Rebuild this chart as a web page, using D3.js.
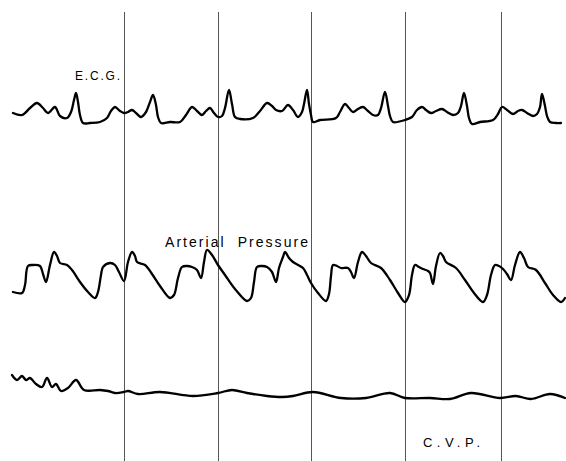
<!DOCTYPE html>
<html>
<head>
<meta charset="utf-8">
<script src="https://cdn.jsdelivr.net/npm/d3@7"></script>
<style>
  html, body { margin: 0; padding: 0; background: #fff; }
  svg { display: block; }
  .trace { fill: none; stroke: #000; stroke-width: 2.3; stroke-linejoin: round; stroke-linecap: round; }
  .marker { stroke: #555; stroke-width: 1; }
  .label { font-family: "Liberation Sans", "DejaVu Sans", sans-serif; fill: #000; }
</style>
</head>
<body>
<div id="chart"></div>
<script>
//******************************************************************************
//**  Data (time in chart units, value = deflection above trace base)
//******************************************************************************
var markerTimes = [124, 218, 311, 405, 501];

var ecg = [[13,7],[22,5],[30,12],[37,17],[43,12],[48,7],[55,13],[60,4],[67,2],[71,8],[74,20],[76,27],[78,18],[80,5],[83,-3],[90,-3],[100,-2],[107,2],[111,9],[115,13],[120,9],[124,7],[128,8],[132,10],[136,7],[141,3],[146,8],[150,18],[153,25],[156,15],[158,3],[161,-3],[170,-2],[180,-2],[186,5],[192,13],[197,9],[202,5],[206,9],[210,12],[214,7],[218,3],[222,4],[225,12],[229,30],[232,16],[235,3],[240,1],[253,2],[260,9],[267,17],[272,14],[276,10],[282,9],[288,15],[293,10],[298,3],[302,8],[304,16],[307,30],[309,16],[311,5],[313,-2],[320,0],[336,2],[340,8],[345,16],[349,12],[353,8],[358,11],[363,13],[368,9],[373,5],[378,5],[381,12],[385,28],[388,14],[390,4],[393,-2],[405,0],[412,3],[417,10],[422,13],[426,10],[431,7],[436,9],[442,11],[447,8],[453,5],[458,7],[461,14],[464,27],[467,14],[469,2],[472,-4],[480,-2],[493,0],[498,6],[502,13],[507,10],[513,6],[518,9],[522,10],[527,7],[533,4],[537,6],[540,13],[542,26],[545,14],[547,4],[550,-2],[556,-3],[561,-3]];

var arterial = [[13,10],[22,9],[25,17],[28,36],[33,37],[40,36],[43,28],[46,20],[50,37],[54,50],[57,46],[60,39],[67,37],[72,32],[80,20],[88,10],[95,4],[98,10],[101,27],[103,35],[110,39],[115,37],[119,30],[124,21],[128,40],[132,50],[135,46],[137,40],[145,37],[152,28],[160,16],[170,4],[174,7],[178,24],[182,35],[187,36],[192,35],[197,32],[201,24],[204,40],[207,52],[212,47],[218,37],[225,27],[235,13],[247,1],[251,4],[254,20],[257,35],[262,36],[267,35],[272,30],[276,20],[279,34],[283,45],[285,50],[289,44],[293,40],[303,34],[307,27],[311,19],[318,9],[326,1],[329,8],[331,26],[333,37],[337,36],[341,34],[348,34],[351,30],[354,24],[358,40],[362,50],[366,46],[371,39],[381,34],[390,22],[398,9],[405,0],[409,7],[412,27],[415,37],[419,35],[423,33],[428,31],[430,29],[433,18],[436,36],[440,49],[443,46],[446,40],[456,34],[465,22],[474,9],[483,0],[487,7],[491,27],[495,37],[499,36],[503,33],[507,28],[511,22],[515,37],[520,50],[524,44],[528,35],[536,32],[545,19],[553,7],[561,0],[565,4]];

var cvp = [[12,25],[17,20],[22,24],[26,20],[30,22],[36,16],[42,13],[47,22],[52,13],[56,16],[61,9],[68,12],[76,20],[84,10],[100,10],[108,9],[115,7],[124,8],[128,9],[138,6],[160,8],[193,4],[218,7],[232,10],[247,7],[267,4],[282,3],[293,4],[313,8],[341,2],[366,2],[390,7],[405,2],[430,2],[450,1],[471,7],[500,2],[516,4],[531,1],[550,6],[565,2]];

var traceLabels = ["E.C.G.", "Arterial  Pressure", "C.V.P."];


//******************************************************************************
//**  Chart
//******************************************************************************
var width = 566, height = 461;

var svg = d3.select("#chart").append("svg")
    .attr("width", width)
    .attr("height", height);

var x = d3.scaleLinear().domain([0, 566]).range([0, width]);

  // one vertical band per trace
var yEcg = d3.scaleLinear().domain([0, 30]).range([120, 90]);
var yArt = d3.scaleLinear().domain([0, 50]).range([302, 252]);
var yCvp = d3.scaleLinear().domain([0, 25]).range([400, 375]);

  // time markers
svg.selectAll("line.marker")
    .data(markerTimes)
    .enter().append("line")
    .attr("class", "marker")
    .attr("x1", function(d){ return Math.round(x(d)) + 0.5; })
    .attr("x2", function(d){ return Math.round(x(d)) + 0.5; })
    .attr("y1", 12)
    .attr("y2", height);

var drawTrace = function(data, yScale){
    var line = d3.line()
        .x(function(d){ return x(d[0]); })
        .y(function(d){ return yScale(d[1]); })
        .curve(d3.curveCatmullRom.alpha(0.5));
    svg.append("path")
        .datum(data)
        .attr("class", "trace")
        .attr("d", line);
};

drawTrace(ecg, yEcg);
drawTrace(arterial, yArt);
drawTrace(cvp, yCvp);

  // labels
var labelPos = [
    {x: 75, y: 80, size: 12, len: 45},
    {x: 165, y: 247, size: 14, len: 143},
    {x: 423, y: 447, size: 13, len: 57}
];

traceLabels.forEach(function(t, i){
    var p = labelPos[i];
    svg.append("text")
        .attr("class", "label")
        .attr("x", p.x)
        .attr("y", p.y)
        .attr("font-size", p.size)
        .attr("textLength", p.len)
        .attr("lengthAdjust", "spacing")
        .style("white-space", "pre")
        .text(t);
});
</script>
</body>
</html>
